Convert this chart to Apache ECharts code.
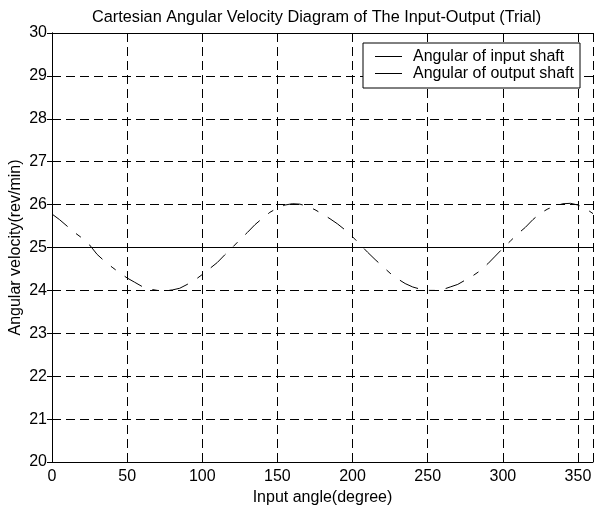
<!DOCTYPE html>
<html>
<head>
<meta charset="utf-8">
<script src="https://cdn.jsdelivr.net/npm/echarts@6/dist/echarts.min.js"></script>
<style>
html,body{margin:0;padding:0;background:#fff;}
#chart{width:595px;height:511px;}
</style>
</head>
<body>
<div id="chart"></div>
<script>
var titleText = 'Cartesian Angular Velocity Diagram of The Input-Output (Trial)';
var xAxisName = 'Input angle(degree)';
var yAxisName = 'Angular velocity(rev/min)';
var seriesNames = ['Angular of input shaft', 'Angular of output shaft'];
var inputAngles = [0, 360];
var inputVelocity = [25, 25];
var outputAngles = [0,5,10,15,20,25,30,35,40,45,50,55,60,65,70,75,80,85,90,95,100,105,110,115,120,125,130,135,140,145,150,155,160,165,170,175,180,185,190,195,200,205,210,215,220,225,230,235,240,245,250,255,260,265,270,275,280,285,290,295,300,305,310,315,320,325,330,335,340,345,350,355,360];
var outputVelocity = [25.78,25.65,25.50,25.35,25.22,25.06,24.84,24.68,24.54,24.41,24.29,24.19,24.09,24.03,24.00,23.99,24.01,24.05,24.14,24.24,24.37,24.51,24.65,24.83,25.00,25.18,25.35,25.53,25.68,25.82,25.92,25.99,26.02,26.01,25.96,25.88,25.78,25.67,25.55,25.41,25.25,25.07,24.89,24.72,24.56,24.40,24.27,24.16,24.08,24.03,24.00,24.00,24.02,24.08,24.14,24.24,24.34,24.46,24.62,24.80,24.98,25.15,25.32,25.47,25.65,25.80,25.90,25.97,26.02,26.03,25.99,25.91,25.79];

function pairs(xs, ys){ return xs.map(function(x,i){ return [x, ys[i]]; }); }

var font = 'Liberation Sans, Arial, sans-serif';
var chart = echarts.init(document.getElementById('chart'), null, {renderer:'canvas'});
var gridDash = [9,5];
var baseAxis = {
  type:'value',
  axisLine:{show:true, lineStyle:{color:'#000', width:1}},
  axisTick:{show:true, inside:true, length:5, lineStyle:{color:'#000'}},
  splitLine:{show:false}
};
chart.setOption({
  animation:false,
  backgroundColor:'#fff',
  title:{text:titleText, left:87, top:5,
    textStyle:{fontFamily:font, fontSize:16.3, fontWeight:'normal', color:'#000'}},
  grid:{left:52, right:2, top:33, bottom:49, containLabel:false, outerBoundsMode:'none'},
  legend:{
    orient:'vertical', left:363, top:43,
    padding:[5,6,6,12], itemGap:0, itemWidth:27, itemHeight:1,
    borderColor:'#000', borderWidth:1, backgroundColor:'#fff', borderRadius:0,
    textStyle:{fontFamily:font, fontSize:16, lineHeight:17, color:'#000', padding:[0,0,0,6]},
    data:[
      {name:seriesNames[0], icon:'rect'},
      {name:seriesNames[1], icon:'rect'}
    ]
  },
  xAxis:[
    Object.assign({}, baseAxis, {
      position:'bottom', min:0, max:360, interval:50,
      name:xAxisName, nameLocation:'middle', nameGap:28, nameMoveOverlap:false,
      nameTextStyle:{fontFamily:font, fontSize:16, color:'#000'},
      axisLabel:{show:true, margin:7, showMaxLabel:false, fontFamily:font, fontSize:16, color:'#000'},
      splitLine:{show:true, lineStyle:{color:'#000', type:gridDash, width:1}}
    }),
    Object.assign({}, baseAxis, {
      position:'top', min:0, max:360, interval:50, axisLabel:{show:false}
    })
  ],
  yAxis:[
    Object.assign({}, baseAxis, {
      position:'left', min:20, max:30, interval:1,
      name:yAxisName, nameLocation:'middle', nameGap:28, nameMoveOverlap:false,
      nameTextStyle:{fontFamily:font, fontSize:16, color:'#000'},
      axisLabel:{show:true, margin:5, fontFamily:font, fontSize:16, color:'#000'},
      splitLine:{show:true, lineStyle:{color:'#000', type:gridDash, width:1}}
    }),
    Object.assign({}, baseAxis, {
      position:'right', min:20, max:30, interval:1, axisLabel:{show:false}
    })
  ],
  series:[
    {name:seriesNames[0], type:'line', data:pairs(inputAngles, inputVelocity),
      symbol:'none', lineStyle:{color:'#000', width:1, type:'solid'}, itemStyle:{color:'#000'}, z:3},
    {name:seriesNames[1], type:'line', data:pairs(outputAngles, outputVelocity),
      symbol:'none', lineStyle:{color:'#000', width:1, type:[20,11,6,11]}, itemStyle:{color:'#000'}, z:3}
  ]
});
</script>
</body>
</html>
